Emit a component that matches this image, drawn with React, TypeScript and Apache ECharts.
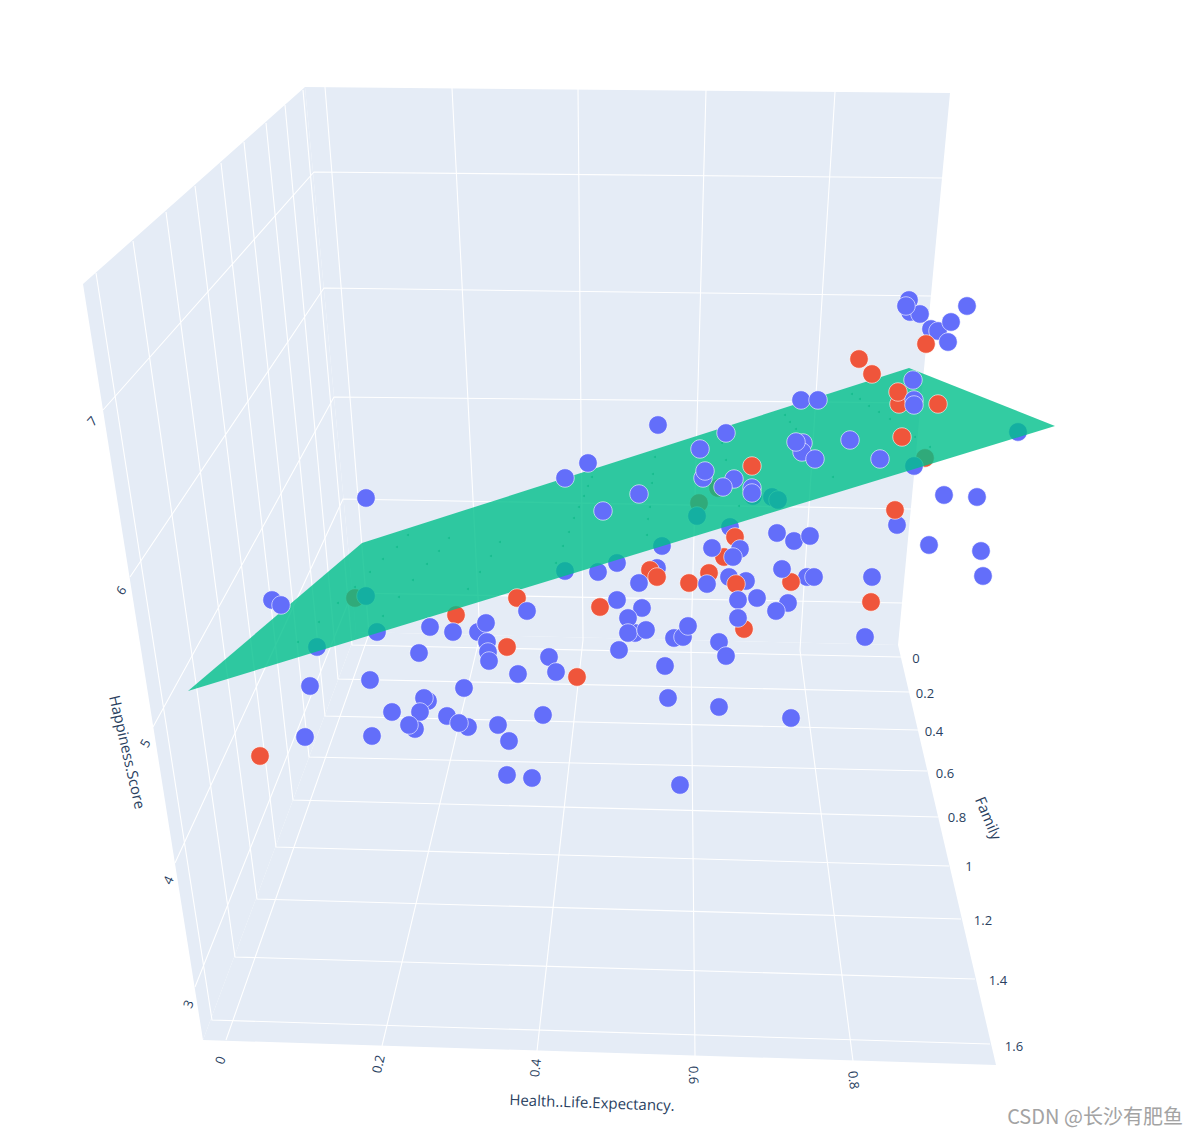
import React, { useEffect, useRef } from "react";
import * as echarts from "echarts";

type P = [number, number];

// Projected (picture-plane) positions of the 3D scene.
const leftWall: P[] = [[83, 284], [305, 87], [356, 632], [203, 1040]];
const backWall: P[] = [[305, 87], [950, 93], [898, 645], [356, 632]];
const floor: P[] = [[203, 1040], [356, 632], [898, 645], [996, 1065]];
const plane: P[] = [[188, 691], [362, 543], [909, 368], [1055, 426]];

const scoreGrid: P[][] = [
  [[103, 410], [314, 172], [943, 178]],
  [[130, 577], [324, 288], [931, 296]],
  [[153, 727], [334, 397], [921, 403]],
  [[175, 863], [343, 499], [911, 509]],
  [[195, 987], [352, 593], [903, 603]],
];
const familyGrid: P[][] = [
  [[303, 90], [352, 645], [901, 657]],
  [[285, 105], [338, 679], [909, 692]],
  [[266, 123], [325, 716], [918, 730]],
  [[244, 142], [309, 757], [927, 771]],
  [[221, 163], [293, 800], [938, 817]],
  [[195, 186], [276, 847], [949, 866]],
  [[166, 212], [257, 899], [961, 919]],
  [[133, 241], [235, 957], [975, 979]],
  [[96, 273], [212, 1020], [990, 1044]],
];
const healthGrid: P[][] = [
  [[325, 87], [369, 634], [226, 1040]],
  [[452, 88], [480, 636], [382, 1046]],
  [[578, 89], [583, 640], [537, 1051]],
  [[706, 90], [691, 645], [695, 1056]],
  [[835, 92], [800, 650], [853, 1061]],
];

const blueBehind: P[] = [
  [366, 596], [377, 632], [317, 647], [772, 497], [778, 500], [697, 516], [730, 527], [662, 546],
  [598, 572], [617, 563], [565, 571], [753, 496], [1018, 432], [914, 466],
];
const redBehind: P[] = [[355, 598], [456, 615], [699, 503], [925, 458], [718, 488]];

const meshDots: P[] = [
  [408, 535], [397, 547], [383, 559], [370, 572], [355, 587], [338, 603], [319, 622], [298, 642],
  [449, 538], [439, 551], [427, 564], [413, 580], [399, 597], [383, 616], [500, 542], [491, 556],
  [480, 572], [468, 589], [655, 457], [653, 474], [652, 483], [650, 507], [648, 519], [647, 535],
  [592, 477], [588, 486], [584, 496], [579, 507], [574, 518], [569, 532], [563, 546], [556, 563],
  [722, 443], [726, 460], [739, 506], [833, 477], [785, 415], [790, 422], [796, 429], [852, 394],
  [860, 399], [869, 406], [879, 412], [890, 419], [915, 437], [930, 447],
];

const blueBase: P[] = [
  [657, 568], [746, 581], [729, 577], [478, 632], [635, 633], [428, 701], [415, 729], [468, 727],
  [910, 312], [909, 300], [920, 314], [803, 443], [802, 452], [752, 488], [703, 478], [674, 638],
  [897, 525], [807, 577], [931, 329], [938, 331],
];
const redFront: P[] = [
  [859, 359], [872, 374], [899, 404], [898, 392], [938, 404], [902, 437], [752, 466], [517, 598],
  [895, 510], [735, 537], [724, 557], [650, 570], [657, 577], [689, 583], [709, 573], [736, 584],
  [791, 582], [871, 602], [600, 607], [744, 629], [507, 647], [577, 677], [260, 756], [926, 344],
];
const blueTop: P[] = [
  [906, 306], [951, 322], [967, 306], [948, 342], [913, 380], [914, 400],
  [914, 405], [801, 400], [818, 400], [796, 442], [815, 459], [850, 440], [880, 459], [944, 495],
  [977, 497], [929, 545], [981, 551], [983, 576], [777, 533], [794, 541], [810, 536], [782, 569],
  [872, 577], [814, 577], [658, 425], [726, 433], [700, 449], [588, 463], [565, 478], [705, 471],
  [734, 479], [723, 487], [639, 494], [752, 493], [603, 511], [639, 583], [707, 584], [712, 548],
  [740, 549], [733, 557], [738, 600], [757, 598], [788, 603], [776, 611], [617, 600], [642, 608],
  [628, 618], [628, 633], [646, 630], [683, 637], [688, 626], [738, 618], [719, 642], [726, 656],
  [619, 650], [665, 666], [549, 657], [556, 672], [668, 698], [719, 707], [791, 718], [680, 785],
  [865, 637], [272, 600], [281, 605], [430, 627], [453, 632], [527, 611], [486, 623], [487, 642],
  [488, 652], [489, 661], [419, 653], [518, 674], [310, 686], [370, 680], [464, 688], [424, 698],
  [420, 712], [392, 712], [409, 725], [447, 716], [459, 723], [498, 725], [509, 741], [543, 715],
  [305, 737], [372, 736], [507, 775], [532, 778], [366, 498],
];

const scoreTicks = ["7", "6", "5", "4", "3"];
const scoreTickPos: P[] = [[92, 421], [121, 590], [145, 743], [168, 880], [188, 1004]];
const scoreTickAngle = [48, 56, 61, 65, 68];
const healthTicks = ["0", "0.2", "0.4", "0.6", "0.8"];
const healthTickPos: P[] = [[220, 1060], [378, 1064], [535, 1068], [694, 1075], [854, 1080]];
const healthTickAngle = [71, 77, 84, -89, -83];
const familyTicks = ["0", "0.2", "0.4", "0.6", "0.8", "1", "1.2", "1.4", "1.6"];
const familyTickPos: P[] = [[916, 658], [925, 693], [934, 731], [945, 773], [957, 817], [969, 866], [983, 920], [998, 980], [1014, 1046]];

const TEXT = "#2a3f5f";
const FONT = '"Open Sans", sans-serif';

function polygonSeries(polys: P[][], fill: string, z: number) {
  return {
    type: "custom",
    silent: true,
    clip: false,
    z,
    data: polys.map((p) => p[0]),
    renderItem: (params: any, api: any) => ({
      type: "polygon",
      shape: { points: polys[params.dataIndex].map((p) => api.coord(p)) },
      style: { fill, stroke: "none" },
    }),
  };
}

function lineSeries(lines: P[][], z: number) {
  return {
    type: "custom",
    silent: true,
    clip: false,
    z,
    data: lines.map((p) => p[0]),
    renderItem: (params: any, api: any) => ({
      type: "polyline",
      shape: { points: lines[params.dataIndex].map((p) => api.coord(p)) },
      style: { fill: "none", stroke: "#ffffff", lineWidth: 1.1, lineJoin: "miter" },
    }),
  };
}

function dotSeries(data: P[], color: string, z: number) {
  return {
    type: "scatter",
    silent: true,
    z,
    symbol: "circle",
    symbolSize: 18.5,
    data,
    itemStyle: { color, opacity: 1, borderColor: "#ffffff", borderWidth: 0.6 },
  };
}

function label(text: string, pos: P, angle: number, fontSize: number) {
  return {
    type: "text",
    x: pos[0],
    y: pos[1],
    rotation: (angle * Math.PI) / 180,
    silent: true,
    z: 100,
    style: { text, fontSize, fontFamily: FONT, fill: TEXT, align: "center", verticalAlign: "middle" },
  };
}

export default function App() {
  const ref = useRef<HTMLDivElement>(null);
  useEffect(() => {
    document.body.style.margin = "0";
    const chart = echarts.init(ref.current!, undefined, { renderer: "svg" });
    chart.setOption({
      animation: false,
      backgroundColor: "#ffffff",
      grid: { left: 0, right: 0, top: 0, bottom: 0 },
      xAxis: { type: "value", min: 0, max: 1197, show: false },
      yAxis: { type: "value", min: 0, max: 1134, inverse: true, show: false },
      series: [
        polygonSeries([leftWall, backWall, floor], "#E5ECF6", 1),
        lineSeries(scoreGrid, 2),
        lineSeries(familyGrid, 3),
        lineSeries(healthGrid, 4),
        dotSeries(redBehind, "#EF553B", 5),
        dotSeries(blueBehind, "#636EFA", 6),
        polygonSeries([plane], "rgba(0,191,139,0.8)", 7),
        {
          type: "scatter",
          silent: true,
          z: 8,
          symbol: "circle",
          symbolSize: 2,
          data: meshDots,
          itemStyle: { color: "#12b98a" },
        },
        dotSeries(blueBase, "#636EFA", 9),
        dotSeries(redFront, "#EF553B", 10),
        dotSeries(blueTop, "#636EFA", 11),
      ],
      graphic: {
        elements: [
          ...scoreTicks.map((t, i) => label(t, scoreTickPos[i], scoreTickAngle[i], 13)),
          ...healthTicks.map((t, i) => label(t, healthTickPos[i], healthTickAngle[i], 13)),
          ...familyTicks.map((t, i) => label(t, familyTickPos[i], 0, 13)),
          label("Happiness.Score", [128, 752], -77, 15),
          label("Health..Life.Expectancy.", [592, 1102], -2, 15),
          label("Family", [989, 818], -67, 15),
          {
            type: "text",
            x: 1095,
            y: 1115,
            silent: true,
            z: 100,
            style: {
              text: "CSDN @长沙有肥鱼",
              fontSize: 20,
              fontFamily: '"Noto Sans CJK SC", sans-serif',
              fill: "#a3a3a3",
              align: "center",
              verticalAlign: "middle",
            },
          },
        ],
      },
    });
    return () => chart.dispose();
  }, []);
  return <div ref={ref} style={{ position: "absolute", left: 0, top: 0, width: 1197, height: 1134 }} />;
}
